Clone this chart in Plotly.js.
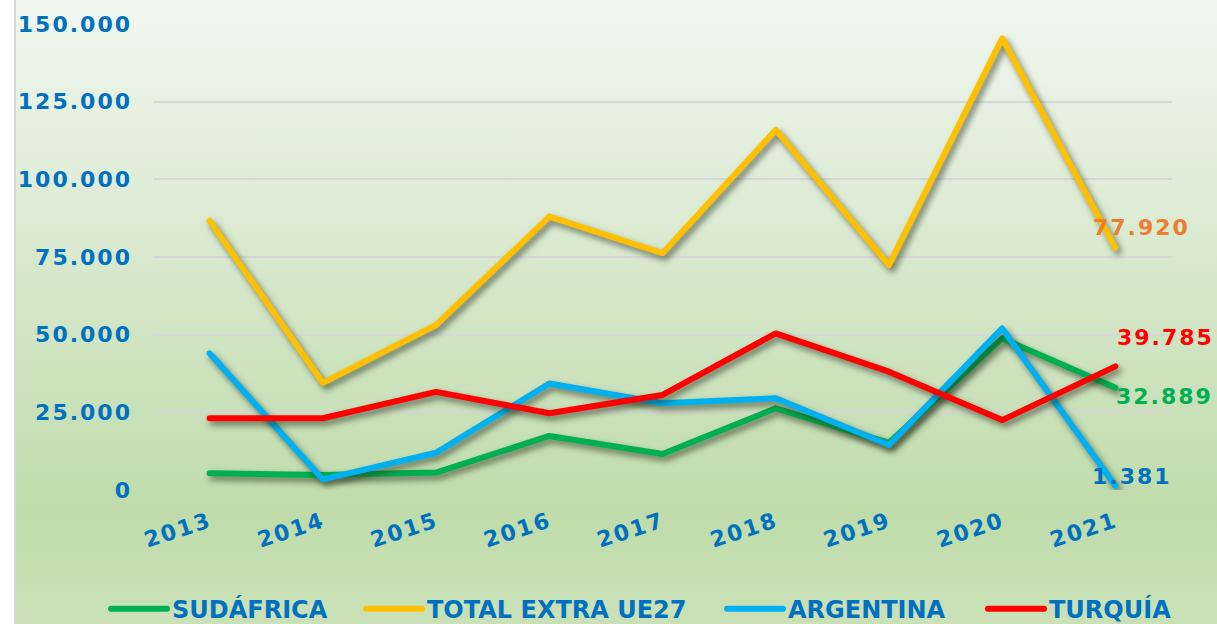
<!DOCTYPE html>
<html>
<head>
<meta charset="utf-8">
<script src="https://cdn.plot.ly/plotly-3.0.1.min.js"></script>
<style>
  html, body { margin:0; padding:0; background:#ffffff; }
  #wrap { position:relative; width:1217px; height:624px; overflow:hidden; background:#ffffff; }
  #bg { position:absolute; left:14px; top:0; right:0; bottom:0; border-left:2px solid #d6d6d6;
        background: linear-gradient(to bottom, #f1f7ef 0%, #dcebd3 35%, #cfe4c2 55%, #bfdcaa 82%, #cae1b7 100%); }
  #chart { position:absolute; left:0; top:0; width:1217px; height:624px; }
  .scatterlayer path.js-line { stroke-linejoin: round; stroke-linecap: round;
        filter: drop-shadow(3px 4px 3px rgba(30,40,20,0.6)); }
  .legendlines path { stroke-linecap: round; }
  .ytick text, .xtick text, .annotation-text { letter-spacing: 2px; }
</style>
</head>
<body>
<div id="wrap"><div id="bg"></div><div id="chart"></div></div>
<script>
const years = ['2013','2014','2015','2016','2017','2018','2019','2020','2021'];
const seriesNames = ['SUDÁFRICA','TOTAL EXTRA UE27','ARGENTINA','TURQUÍA'];
const sudafrica = [5400, 4800, 5600, 17400, 11600, 26300, 15200, 48800, 32889];
const totalExtra = [86700, 34500, 53100, 88000, 76200, 115900, 72400, 145400, 77920];
const argentina = [44000, 3400, 12000, 34300, 27900, 29500, 14500, 52000, 1381];
const turquia = [23100, 23100, 31600, 24700, 30600, 50400, 38100, 22500, 39785];
const yTicks = [0, 25000, 50000, 75000, 100000, 125000, 150000];

const lineColors = ['#00B050', '#FFC000', '#00B0F0', '#FF0000'];
const labelColors = ['#00B050', '#ED7D31', '#0070C0', '#FF0000'];
const allSeries = [sudafrica, totalExtra, argentina, turquia];
const labelShift = [[49, -9], [26, 20], [17, 9], [50, 29]];
const legendNames = ['legend', 'legend2', 'legend3', 'legend4'];
const legendX = [106, 361, 722, 983];

const font = 'DejaVu Sans, sans-serif';

const traces = allSeries.map((vals, i) => ({
  type: 'scatter', mode: 'lines', name: seriesNames[i],
  x: years, y: vals,
  line: { color: lineColors[i], width: 6 },
  legend: legendNames[i],
  hoverinfo: 'skip'
}));

const fmt = v => v.toLocaleString('de-DE');
const annotations = allSeries.map((vals, i) => ({
  x: years.length - 1, y: vals[vals.length - 1],
  xref: 'x', yref: 'y',
  text: fmt(vals[vals.length - 1]),
  showarrow: false,
  xshift: labelShift[i][0], yshift: labelShift[i][1],
  font: { family: font, size: 22, color: labelColors[i], weight: 'bold' }
}));

const layout = {
  width: 1217, height: 624,
  paper_bgcolor: 'rgba(0,0,0,0)', plot_bgcolor: 'rgba(0,0,0,0)',
  margin: { l: 153, r: 45, t: 24, b: 134, autoexpand: false },
  separators: ',.',
  showlegend: true,
  xaxis: {
    type: 'category', categoryorder: 'array', categoryarray: years,
    range: [-0.5, years.length - 0.5], autorange: false,
    showgrid: false, zeroline: false, showline: false,
    tickangle: -18, ticks: '', ticklabelstandoff: 14,
    tickfont: { family: font, size: 22, color: '#0070C0', weight: 'bold' }
  },
  yaxis: {
    range: [0, 150000], autorange: false, tickvals: yTicks, tickformat: ',d',
    showgrid: true, gridcolor: '#d6d6d6', gridwidth: 2,
    zeroline: false, showline: false, ticks: '', ticklabelstandoff: 20,
    tickfont: { family: font, size: 22, color: '#0070C0', weight: 'bold' }
  },
  annotations: annotations
};
legendNames.forEach((ln, i) => {
  layout[ln] = {
    orientation: 'h', xref: 'container', yref: 'container',
    x: legendX[i] / 1217, y: 0.06, xanchor: 'left', yanchor: 'top',
    itemwidth: 56, bgcolor: 'rgba(0,0,0,0)',
    font: { family: font, size: 24, color: '#0070C0', weight: 'bold' }
  };
});

Plotly.newPlot('chart', traces, layout, { displayModeBar: false, staticPlot: true });
</script>
</body>
</html>
